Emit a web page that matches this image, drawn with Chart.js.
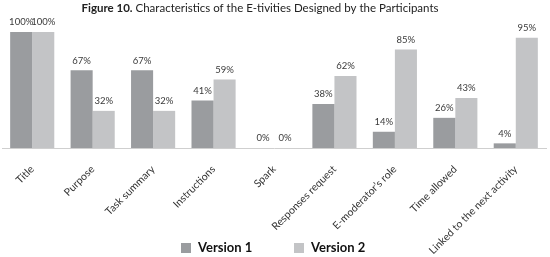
<!DOCTYPE html>
<html>
<head>
<meta charset="utf-8">
<script src="https://cdn.jsdelivr.net/npm/chart.js@4"></script>
<style>
  html, body { margin: 0; padding: 0; background: #fff; }
  #wrap { width: 550px; height: 257px; position: relative; }
</style>
</head>
<body>
<div id="wrap"><canvas id="chart"></canvas></div>
<script>
'use strict';

/* ── Data ── */
const CATEGORIES = ['Title', 'Purpose', 'Task summary', 'Instructions', 'Spark',
    'Responses request', 'E-moderator\u2019s role', 'Time allowed', 'Linked to the next activity'];
const VERSION_1 = [100, 67, 67, 41, 0, 38, 14, 26, 4];
const VERSION_2 = [100, 32, 32, 59, 0, 62, 85, 43, 95];
const SERIES_NAMES = ['Version 1', 'Version 2'];

const FONT = 'Lato, "Open Sans", sans-serif';
const COLORS = { v1: '#9a9c9f', v2: '#c3c4c6', text: '#3a3a3a', axis: '#cfcfcf' };

/* ── Title with bold "Figure 10." prefix ── */
const titlePlugin = {
    id: 'figTitle',
    afterDraw(chart) {
        const c = chart.ctx;
        const bold = 'Figure 10.';
        const rest = ' Characteristics of the E-tivities Designed by the Participants';
        c.save();
        c.textBaseline = 'middle';
        c.fillStyle = '#222';
        c.font = `bold 11.5px ${FONT}`;
        const wb = c.measureText(bold).width;
        c.font = `11.5px ${FONT}`;
        const wr = c.measureText(rest).width;
        let x = 260 - (wb + wr) / 2;
        c.font = `bold 11.5px ${FONT}`;
        c.fillText(bold, x, 8);
        c.font = `11.5px ${FONT}`;
        c.fillText(rest, x + wb, 8);
        c.restore();
    },
};

/* ── Value labels above bars ── */
const valueLabels = {
    id: 'valueLabels',
    afterDatasetsDraw(chart) {
        const c = chart.ctx;
        c.save();
        c.font = `9.5px ${FONT}`;
        c.fillStyle = COLORS.text;
        c.textAlign = 'center';
        c.textBaseline = 'bottom';
        chart.data.datasets.forEach((ds, i) => {
            chart.getDatasetMeta(i).data.forEach((bar, j) => {
                c.fillText(ds.data[j] + '%', bar.x, bar.y - 5);
            });
        });
        c.restore();
    },
};

/* ── Legend at the bottom ── */
const bottomLegend = {
    id: 'bottomLegend',
    afterDraw(chart) {
        const c = chart.ctx;
        const starts = [181, 294];
        c.save();
        c.font = `bold 13px ${FONT}`;
        c.textBaseline = 'middle';
        chart.data.datasets.forEach((ds, i) => {
            c.fillStyle = ds.backgroundColor;
            c.fillRect(starts[i], 243, 10, 10);
            c.fillStyle = '#111';
            c.fillText(ds.label, starts[i] + 17, 248);
        });
        c.restore();
    },
};

new Chart(document.getElementById('chart'), {
    type: 'bar',
    data: {
        labels: CATEGORIES,
        datasets: [
            { label: SERIES_NAMES[0], data: VERSION_1, backgroundColor: COLORS.v1 },
            { label: SERIES_NAMES[1], data: VERSION_2, backgroundColor: COLORS.v2 },
        ],
    },
    options: {
        responsive: true,
        maintainAspectRatio: false,
        animation: false,
        layout: { padding: { top: 32, left: 2, right: 4, bottom: 0 } },
        datasets: { bar: { categoryPercentage: 0.73, barPercentage: 1 } },
        plugins: {
            legend: { display: false },
            tooltip: { enabled: false },
        },
        scales: {
            y: { display: false, min: 0, max: 100 },
            x: {
                grid: { display: false },
                border: { color: COLORS.axis, width: 1 },
                ticks: {
                    color: '#333',
                    font: { family: FONT, size: 10.5 },
                    minRotation: 45,
                    maxRotation: 45,
                    padding: 7,
                    autoSkip: false,
                },
                afterFit: s => { s.height = 109; },
            },
        },
    },
    plugins: [titlePlugin, valueLabels, bottomLegend],
});
</script>
</body>
</html>
